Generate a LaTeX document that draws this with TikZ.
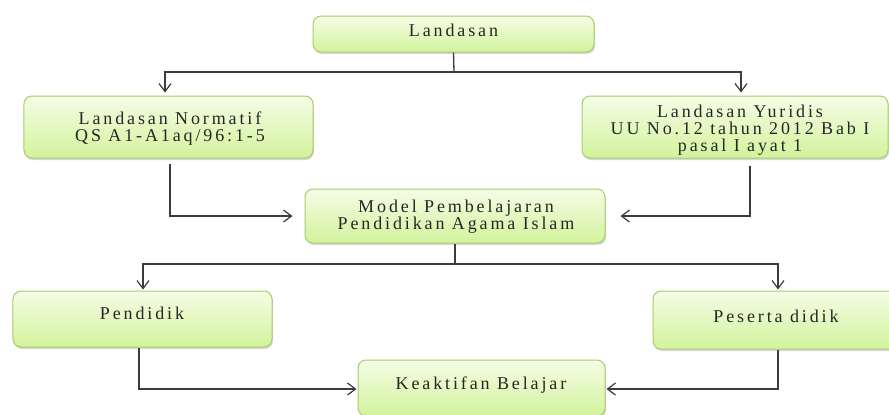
\documentclass[tikz,border=0pt]{standalone}
\usepackage{fontspec}
\setmainfont{Liberation Serif}[LetterSpace=16]
\usetikzlibrary{arrows.meta,shadows}
\definecolor{boxtop}{HTML}{F4FDE6}
\definecolor{boxbot}{HTML}{D3F39C}
\definecolor{boxline}{HTML}{A9CC6C}
\definecolor{conline}{HTML}{3C3C3C}
\tikzset{
  box/.style={draw=boxline, line width=1bp, rounded corners=8bp,
    top color=boxtop, bottom color=boxbot, inner sep=0pt,
    drop shadow={shadow xshift=1bp, shadow yshift=-2bp, opacity=0.25, fill=black!60}},
  txt/.style={inner sep=0pt, align=center, anchor=north, text=black!85,
    font=\fontsize{18bp}{17bp}\selectfont},
  conn/.style={draw=conline, line width=1.3bp},
  arr/.style={conn, -{Straight Barb[length=8bp,width=12bp,line width=1.2bp]}}
}
\begin{document}
\begin{tikzpicture}[x=1bp,y=-1bp]
\useasboundingbox[fill=white] (0,0) rectangle (889,414);
% boxes
\node[box, minimum width=281bp, minimum height=36bp] (L) at (453.5,34) {};
\node[box, minimum width=289bp, minimum height=62bp] (N) at (168.5,127) {};
\node[box, minimum width=306bp, minimum height=62bp] (Y) at (735,127) {};
\node[box, minimum width=300bp, minimum height=54bp] (M) at (455,216) {};
\node[box, minimum width=259bp, minimum height=56bp] (P) at (142.5,319) {};
\node[box, minimum width=247bp, minimum height=58bp] (S) at (776.5,320) {};
\node[box, minimum width=247bp, minimum height=56bp] (K) at (481.5,388) {};
% texts
\node[txt] (tL) at (453.5,24) {Landasan};
\node[txt] (tN) at (170,112) {Landasan Normatif\\QS A1-A1aq/96:1-5};
\node[txt] (tY) at (740,104.5) {Landasan Yuridis\\UU No.12 tahun 2012 Bab I\\pasal I ayat 1};
\node[txt] (tM) at (456,200) {Model Pembelajaran\\Pendidikan Agama Islam};
\node[txt] (tP) at (142,307) {Pendidik};
\node[txt] (tS) at (776,310) {Peserta didik};
\node[txt] (tK) at (481,377) {Keaktifan Belajar};
% connectors
\coordinate (jt) at (454,72);
\coordinate (jb) at (455,264);
\draw[conn] (L.south) -- (jt);
\draw[arr] (jt) -| ([xshift=-3.5bp,yshift=3bp]N.north);
\draw[arr] (jt) -| ([xshift=6bp,yshift=3bp]Y.north);
\draw[arr] ([xshift=1.5bp,yshift=-5bp]N.south) |- ([xshift=-12bp]M.west);
\draw[arr] ([xshift=15bp,yshift=-7bp]Y.south) |- ([xshift=15bp]M.east);
\draw[conn] (M.south) -- (jb);
\draw[arr] (jb) -| ([xshift=0.5bp,yshift=1bp]P.north);
\draw[arr] (jb) -| ([xshift=1.5bp,yshift=1bp]S.north);
\draw[arr] ([xshift=-3.5bp]P.south) |- ([xshift=-1bp,yshift=-1bp]K.west);
\draw[arr] ([xshift=1.5bp]S.south) |- ([xshift=1bp,yshift=-1bp]K.east);
\end{tikzpicture}
\end{document}
